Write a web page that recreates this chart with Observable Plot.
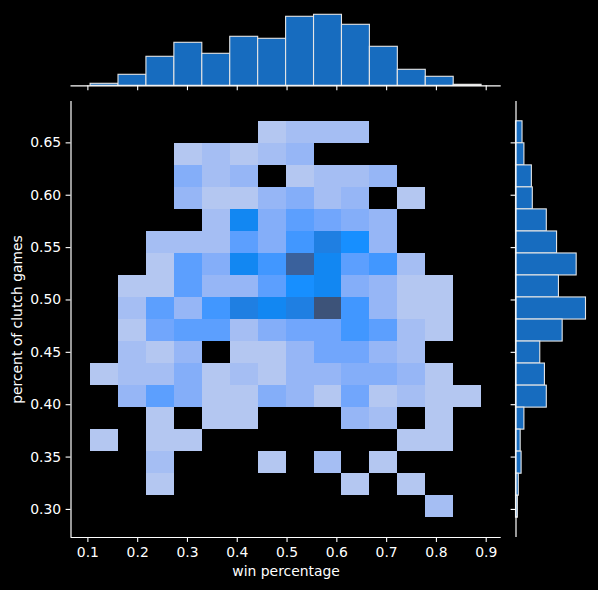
<!DOCTYPE html>
<html>
<head>
<meta charset="utf-8">
<script src="https://cdn.jsdelivr.net/npm/d3@7"></script>
<script src="https://cdn.jsdelivr.net/npm/@observablehq/plot@0.6"></script>
<style>
  html, body { margin: 0; padding: 0; background: #000; }
  #chart { position: relative; width: 598px; height: 590px; background: #000; }
  #chart svg { position: absolute; left: 0; top: 0; background: transparent; overflow: visible; }
</style>
</head>
<body>
<div id="chart"></div>
<script>
// ---- data ----
const xEdges = [0.1054, 0.1615, 0.2176, 0.2737, 0.3298, 0.3859, 0.4420, 0.4981, 0.5542, 0.6103, 0.6664, 0.7225, 0.7786, 0.8347, 0.8907];
const yEdges = [0.2921, 0.3131, 0.3341, 0.3552, 0.3762, 0.3972, 0.4182, 0.4393, 0.4603, 0.4813, 0.5024, 0.5234, 0.5444, 0.5654, 0.5865, 0.6075, 0.6285, 0.6496, 0.6706];
// counts per cell, rows from top (highest y bin) to bottom, 14 x bins each
const countRows = [
  [0,0,0,0,0,0,1,2,2,2,0,0,0,0],
  [0,0,0,1,2,1,2,3,0,0,0,0,0,0],
  [0,0,0,4,2,3,0,1,2,2,3,0,0,0],
  [0,0,0,3,1,1,3,4,2,3,0,1,0,0],
  [0,0,0,0,2,9,4,6,5,4,3,0,0,0],
  [0,0,2,2,2,6,4,7,10,8,3,0,0,0],
  [0,0,1,6,4,9,7,14,9,6,7,2,0,0],
  [0,1,1,6,3,3,6,8,9,4,3,1,1,0],
  [0,2,6,3,7,10,9,10,16,7,3,1,1,0],
  [0,1,5,6,6,2,4,5,5,7,6,2,1,0],
  [0,2,1,3,0,1,1,3,5,5,3,2,0,0],
  [1,2,2,4,1,2,1,3,3,4,4,3,1,0],
  [0,3,6,4,1,1,4,3,1,5,1,2,1,1],
  [0,0,1,0,1,1,0,0,0,3,2,0,1,0],
  [1,0,1,1,0,0,0,0,0,0,0,1,1,0],
  [0,0,2,0,0,0,1,0,2,0,1,0,0,0],
  [0,0,1,0,0,0,0,0,0,1,0,1,0,0],
  [0,0,0,0,0,0,0,0,0,0,0,0,2,0]
];
const xTicks = [0.1, 0.2, 0.3, 0.4, 0.5, 0.6, 0.7, 0.8, 0.9];
const yTicks = [0.30, 0.35, 0.40, 0.45, 0.50, 0.55, 0.60, 0.65];
const xLabel = "win percentage";
const yLabel = "percent of clutch games";
const baseColor = "#1e90ff";

// ---- derived tables ----
const nRows = countRows.length;
const cells = [];
countRows.forEach((row, i) => row.forEach((n, j) => {
  if (n > 0) cells.push({x1: xEdges[j], x2: xEdges[j + 1], y1: yEdges[nRows - 1 - i], y2: yEdges[nRows - i], n});
}));
const colBars = xEdges.slice(0, -1).map((e, j) => ({x1: e, x2: xEdges[j + 1], n: d3.sum(countRows, r => r[j])}));
const rowBars = countRows.map((r, i) => ({y1: yEdges[nRows - 1 - i], y2: yEdges[nRows - i], n: d3.sum(r)}));
const nMax = d3.max(cells, d => d.n), nMin = d3.min(cells, d => d.n);

// ---- seaborn-like colormap (husl ramp) ----
const Mx = [[3.2406,-1.5372,-0.4986],[-0.9689,1.8758,0.0415],[0.0557,-0.2040,1.0570]];
const MI = [[0.4124,0.3576,0.1805],[0.2126,0.7152,0.0722],[0.0193,0.1192,0.9505]];
const refU = 0.19784, refV = 0.46834, labE = 0.008856, labK = 903.3;
function maxChroma(L, H) {
  const hr = H * Math.PI / 180, sH = Math.sin(hr), cH = Math.cos(hr);
  const sub1 = Math.pow(L + 16, 3) / 1560896, sub2 = sub1 > labE ? sub1 : L / labK;
  let res = Infinity;
  for (const [m1, m2, m3] of Mx) {
    const top = (0.99915 * m1 + 1.05122 * m2 + 1.14460 * m3) * sub2;
    const rb = 0.86330 * m3 - 0.17266 * m2, lb = 0.12949 * m3 - 0.38848 * m1;
    const bottom = (rb * sH + lb * cH) * sub2;
    for (const t of [0, 1]) {
      const C = L * (top - 1.05122 * t) / (bottom + 0.17266 * sH * t);
      if (C > 0 && C < res) res = C;
    }
  }
  return res;
}
function huslToRgb(H, S, L) {
  if (L > 99.9999999) return [1, 1, 1];
  if (L < 1e-8) return [0, 0, 0];
  const C = maxChroma(L, H) / 100 * S, hr = H * Math.PI / 180;
  const U = Math.cos(hr) * C, V = Math.sin(hr) * C;
  const t = (L + 16) / 116, Y = Math.pow(t, 3) > labE ? Math.pow(t, 3) : (116 * t - 16) / labK;
  const vU = U / (13 * L) + refU, vV = V / (13 * L) + refV;
  const X = -(9 * Y * vU) / ((vU - 4) * vV - vU * vV);
  const Z = (9 * Y - 15 * vV * Y - vV * X) / (3 * vV);
  return Mx.map(r => { const c = r[0] * X + r[1] * Y + r[2] * Z; return c <= 0.0031308 ? 12.92 * c : 1.055 * Math.pow(c, 1 / 2.4) - 0.055; });
}
function rgbToHusl(r, g, b) {
  const lin = c => c > 0.04045 ? Math.pow((c + 0.055) / 1.055, 2.4) : c / 12.92;
  const rl = [lin(r), lin(g), lin(b)];
  const [X, Y, Z] = MI.map(row => row[0] * rl[0] + row[1] * rl[1] + row[2] * rl[2]);
  const d = X + 15 * Y + 3 * Z, vU = 4 * X / d, vV = 9 * Y / d;
  const f = t => t > labE ? Math.cbrt(t) : 7.787 * t + 16 / 116;
  const L = 116 * f(Y) - 16, U = 13 * L * (vU - refU), V = 13 * L * (vV - refV);
  const C = Math.hypot(U, V);
  let H = Math.atan2(V, U) * 180 / Math.PI; if (H < 0) H += 360;
  return [H, C / maxChroma(L, H) * 100, L];
}
const bc = d3.rgb(baseColor);
const [hh, ss] = rgbToHusl(bc.r / 255, bc.g / 255, bc.b / 255);
const nx = Math.floor(1.15 * 256);
const ramp = d3.range(256).map(i => {
  const xx = -1 + 2 * i / (nx - 1);
  const rgb = huslToRgb(hh, ss * Math.cos(xx), 35 + 45 * i / 255).map(v => Math.max(0, Math.min(1, v)));
  return d3.rgb(rgb[0] * 255, rgb[1] * 255, rgb[2] * 255).formatHex();
}).reverse();
const cmap = t => ramp[Math.max(0, Math.min(255, Math.floor(t * 256)))];

// ---- layout ----
const W = 598, H = 590;
const mainL = 70.5, mainR = 500.7, mainT = 101, mainB = 537;
const xDom = [0.0661, 0.9301], yDom = [0.2732, 0.6895];
const font = "'DejaVu Sans', sans-serif";
const fs = 13.9;
const axisStyle = {background: "transparent", color: "white", fontFamily: font, fontSize: fs + "px"};
const barFill = "#176cbf";
const tk = 4.9, tp = 4.9;

const main = Plot.plot({
  width: W, height: H,
  marginLeft: mainL, marginRight: W - mainR, marginTop: mainT, marginBottom: H - mainB,
  style: axisStyle,
  x: {domain: xDom, label: null},
  y: {domain: yDom, label: null},
  color: {type: "linear", domain: [nMin, nMax], interpolate: cmap},
  marks: [
    Plot.rect(cells, {x1: "x1", x2: "x2", y1: "y1", y2: "y2", fill: "n", shapeRendering: "crispEdges"}),
    Plot.ruleX([xDom[0]], {stroke: "white", strokeWidth: 1.2}),
    Plot.ruleY([yDom[0]], {stroke: "white", strokeWidth: 1.2}),
    Plot.axisX({ticks: xTicks, tickFormat: d => d.toFixed(1), tickSize: tk, tickPadding: tp, label: null, stroke: "white", fill: "white", fontSize: fs, strokeWidth: 1.1}),
    Plot.axisY({ticks: yTicks, tickFormat: d => d.toFixed(2), tickSize: tk, tickPadding: tp, label: null, stroke: "white", fill: "white", fontSize: fs, strokeWidth: 1.1}),
    Plot.text([xLabel], {frameAnchor: "bottom", dy: 34.5, text: d => d, fill: "white", fontSize: fs, textAnchor: "middle", lineAnchor: "middle"}),
    Plot.text([yLabel], {frameAnchor: "left", dx: -53.5, rotate: -90, text: d => d, fill: "white", fontSize: fs, textAnchor: "middle", lineAnchor: "middle"})
  ]
});

const topHist = Plot.plot({
  width: W, height: H,
  marginLeft: mainL, marginRight: W - mainR, marginTop: 10.75, marginBottom: H - 85.3,
  style: axisStyle,
  x: {domain: xDom, label: null},
  y: {domain: [0, d3.max(colBars, d => d.n) * 1.05], label: null, axis: null},
  marks: [
    Plot.rectY(colBars, {x1: "x1", x2: "x2", y1: 0, y2: "n", fill: barFill, stroke: "#e6e6e6", strokeWidth: 1.1}),
    Plot.ruleY([0], {stroke: "white", strokeWidth: 1.2}),
    Plot.axisX({ticks: xTicks, tickFormat: () => "", tickSize: tk, label: null, stroke: "white", strokeWidth: 1.1})
  ]
});

const rightHist = Plot.plot({
  width: W, height: H,
  marginLeft: 515.5, marginRight: 9, marginTop: mainT, marginBottom: H - mainB,
  style: axisStyle,
  x: {domain: [0, d3.max(rowBars, d => d.n) * 1.05], label: null, axis: null},
  y: {domain: yDom, label: null},
  marks: [
    Plot.rectX(rowBars, {y1: "y1", y2: "y2", x1: 0, x2: "n", fill: barFill, stroke: "#e6e6e6", strokeWidth: 1.1}),
    Plot.ruleX([0], {stroke: "white", strokeWidth: 1.2}),
    Plot.axisY({ticks: yTicks, tickFormat: () => "", tickSize: tk, label: null, stroke: "white", strokeWidth: 1.1})
  ]
});

const chart = document.getElementById("chart");
chart.append(main, topHist, rightHist);
</script>
</body>
</html>
